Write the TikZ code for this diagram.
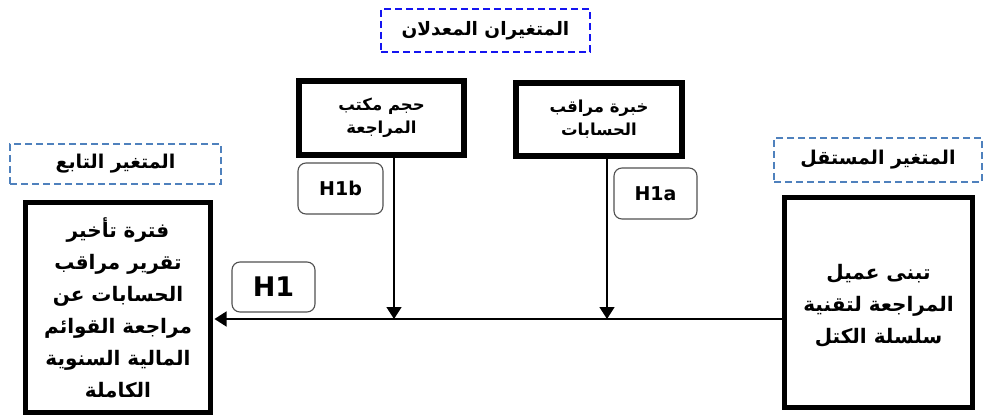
\documentclass[tikz,border=0pt]{standalone}
\usepackage{fontspec}
\usetikzlibrary{arrows.meta}
\setmainfont{DejaVu Sans}
\newfontfamily\arabicfont[Script=Arabic]{DejaVu Sans}
\TeXXeTstate=1
\definecolor{dashblue}{RGB}{20,20,240}
\definecolor{steelb}{RGB}{79,129,189}
\definecolor{hgray}{RGB}{80,80,80}
\tikzset{
  mainbox/.style={draw=black, line width=5pt, fill=white, inner sep=0pt, outer sep=0pt, align=center, font=\arabicfont\bfseries\fontsize{20}{32}\selectfont},
  modbox/.style={draw=black, line width=6pt, fill=white, inner sep=0pt, outer sep=0pt, align=center, font=\arabicfont\bfseries\fontsize{16.5}{23}\selectfont},
  toplabel/.style={draw=dashblue, line width=2.2pt, dash pattern=on 7pt off 4pt, inner sep=0pt, outer sep=0pt, font=\arabicfont\bfseries\fontsize{18.5}{20}\selectfont},
  sidelabel/.style={draw=steelb, line width=2pt, dash pattern=on 7pt off 4pt, inner sep=0pt, outer sep=0pt, font=\arabicfont\bfseries\fontsize{19}{20}\selectfont},
  hyp/.style={draw=hgray, line width=1.1pt, rounded corners=8pt, inner sep=0pt, outer sep=0pt, font=\bfseries\fontsize{19}{21}\selectfont},
  conn/.style={line width=1.5pt, -{Triangle[width=15pt,length=12pt]}}
}
\begin{document}
\begin{tikzpicture}[x=1pt,y=-1pt]
\useasboundingbox (0,0) rectangle (985,417);
% dashed labels
\node[toplabel, minimum width=209pt, minimum height=43pt] (mod) at (485.5,30.5) {\beginR المتغيران المعدلان\endR};
\node[sidelabel, minimum width=211pt, minimum height=40pt] (dep) at (115.5,164) {\beginR المتغير التابع\endR};
\node[sidelabel, minimum width=208pt, minimum height=44pt] (ind) at (878,160) {\beginR المتغير المستقل\endR};
% moderator boxes
\node[modbox, minimum width=165pt, minimum height=74pt] (m1) at (381.5,118) {\beginR حجم مكتب\endR\\\beginR المراجعة\endR};
\node[modbox, minimum width=166pt, minimum height=73pt] (m2) at (599,119.5) {\beginR خبرة مراقب\endR\\\beginR الحسابات\endR};
% main boxes
\node[mainbox, minimum width=185pt, minimum height=210pt] (lb) at (118,307.5) {\beginR فترة تأخير\endR\\\beginR تقرير مراقب\endR\\\beginR الحسابات عن\endR\\\beginR مراجعة القوائم\endR\\\beginR المالية السنوية\endR\\\beginR الكاملة\endR};
\node[mainbox, minimum width=188pt, minimum height=210pt] (rb) at (878.5,302.5) {};
\node[font=\arabicfont\bfseries\fontsize{20}{32}\selectfont, align=center, inner sep=0pt] (rbt) at (878.5,305.5) {\beginR تبنى عميل\endR\\\beginR المراجعة لتقنية\endR\\\beginR سلسلة الكتل\endR};
% hypothesis boxes
\node[hyp, minimum width=85pt, minimum height=51pt] (h1b) at (340.5,188.5) {H1b};
\node[hyp, minimum width=83pt, minimum height=51pt] (h1a) at (655.5,193.5) {H1a};
\node[hyp, minimum width=83pt, minimum height=50pt, font=\bfseries\fontsize{27}{29}\selectfont] (h1) at (273.5,287) {H1};
% connectors
\coordinate (j) at (500,319);
\coordinate (j1) at (394,319);
\coordinate (j2) at (607,319);
\draw[conn, shorten >=4pt] (rb.west |- j) -- (lb.east |- j);
\draw[conn] (m1.south -| j1) -- (j1);
\draw[conn] (m2.south -| j2) -- (j2);
\end{tikzpicture}
\end{document}
